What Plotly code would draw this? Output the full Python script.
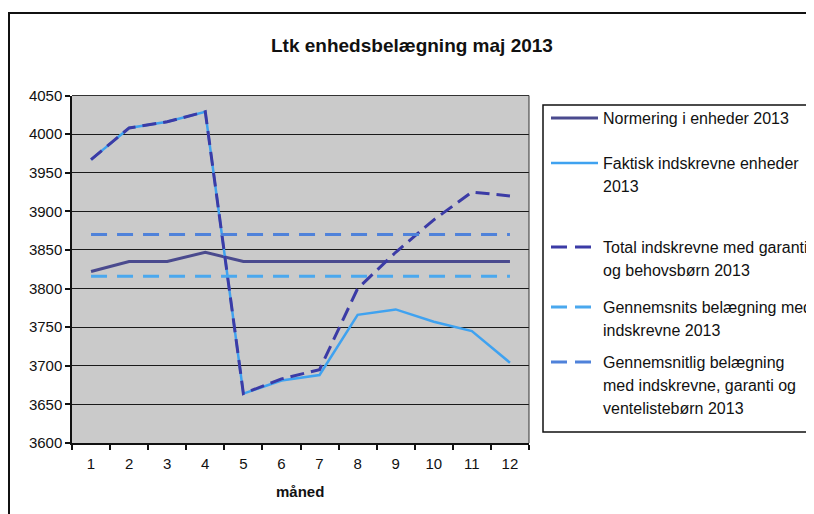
import plotly.graph_objects as go

W, H = 814, 514
OFF = 8  # default page margin of the browser

months = ["1", "2", "3", "4", "5", "6", "7", "8", "9", "10", "11", "12"]
normering = [3822, 3835, 3835, 3847, 3835, 3835, 3835, 3835, 3835, 3835, 3835, 3835]
faktisk = [3967, 4008, 4016, 4029, 3664, 3681, 3688, 3766, 3773, 3757, 3745, 3704]
total_garanti = [3967, 4008, 4016, 4029, 3664, 3683, 3695, 3800, 3847, 3889, 3925, 3920]
gns_indskrevne = [3816] * 12
gns_garanti_vente = [3870] * 12

series_names = [
    "Normering i enheder 2013",
    "Faktisk indskrevne enheder 2013",
    "Total indskrevne med garanti og behovsbørn 2013",
    "Gennemsnits belægning med indskrevne 2013",
    "Gennemsnitlig belægning med indskrevne, garanti og ventelistebørn 2013",
]
legend_lines = [
    ["Normering i enheder 2013"],
    ["Faktisk indskrevne enheder", "2013"],
    ["Total indskrevne med garanti", "og behovsbørn 2013"],
    ["Gennemsnits belægning med", "indskrevne 2013"],
    ["Gennemsnitlig belægning", "med indskrevne, garanti og", "ventelistebørn 2013"],
]
y_ticks = [3600, 3650, 3700, 3750, 3800, 3850, 3900, 3950, 4000, 4050]

colors = ["#4a4a8e", "#3fa2f0", "#3b3ba6", "#4aa8ee", "#4f82da"]
dashes = ["solid", "solid", "14px,7px", "16px,10px", "16px,10px"]
widths = [3, 2.5, 3, 3, 3]
data = [normering, faktisk, total_garanti, gns_indskrevne, gns_garanti_vente]

fig = go.Figure()
for name, vals, c, d, w in zip(series_names, data, colors, dashes, widths):
    fig.add_trace(go.Scatter(x=months, y=vals, mode="lines", name=name,
                             line=dict(color=c, dash=d, width=w), showlegend=False))

def px(x):
    return (x - OFF) / W

def py(y):
    return 1 - (y - OFF) / H

font = "Liberation Sans, Arial, sans-serif"

fig.update_layout(
    width=W, height=H,
    margin=dict(l=0, r=0, t=0, b=0, autoexpand=False),
    paper_bgcolor="white",
    plot_bgcolor="#cacaca",
    font=dict(family=font, size=15, color="#111"),
    xaxis=dict(
        domain=[px(72), px(529)], type="category", tickson="boundaries",
        ticks="outside", ticklen=5, tickcolor="#111", tickwidth=1.5,
        showline=True, linecolor="#111", linewidth=1.5, showgrid=False,
        tickfont=dict(size=15), range=[-0.5, 11.5], automargin=False,
        ticklabelstandoff=6,
    ),
    yaxis=dict(
        domain=[py(443), py(95.5)], range=[3600, 4050], tickvals=y_ticks,
        ticks="outside", ticklen=5, tickcolor="#111", tickwidth=1.5,
        showline=True, linecolor="#111", linewidth=1.5,
        showgrid=True, gridcolor="#1a1a1a", gridwidth=1,
        tickfont=dict(size=15), zeroline=False, automargin=False,
    ),
)

shapes = []
# outer chart border (right and bottom clipped by image)
shapes.append(dict(type="rect", xref="paper", yref="paper",
                   x0=px(9), x1=px(840), y0=py(540), y1=py(13),
                   line=dict(color="#111", width=2), fillcolor="rgba(0,0,0,0)"))
# plot area right and top border
shapes.append(dict(type="line", xref="paper", yref="paper",
                   x0=px(529), x1=px(529), y0=py(443), y1=py(95.5),
                   line=dict(color="#333", width=1)))
shapes.append(dict(type="line", xref="paper", yref="paper",
                   x0=px(72), x1=px(529), y0=py(95.5), y1=py(95.5),
                   line=dict(color="#333", width=1)))
# legend box
shapes.append(dict(type="rect", xref="paper", yref="paper",
                   x0=px(543), x1=px(840), y0=py(432), y1=py(105),
                   line=dict(color="#111", width=1.5), fillcolor="white"))

annotations = [
    dict(text="<b>Ltk enhedsbelægning maj 2013</b>", xref="paper", yref="paper",
         x=px(412), y=py(46), showarrow=False, font=dict(size=19, color="#111"),
         xanchor="center", yanchor="middle"),
    dict(text="<b>måned</b>", xref="paper", yref="paper",
         x=px(300), y=py(491), showarrow=False, font=dict(size=15, color="#111"),
         xanchor="center", yanchor="middle"),
]

entry_y = [118, 163, 247, 307, 362]
line_h = 23
for i, lines in enumerate(legend_lines):
    y0 = entry_y[i]
    shapes.append(dict(type="line", xref="paper", yref="paper",
                       x0=px(551), x1=px(598), y0=py(y0), y1=py(y0),
                       line=dict(color=colors[i], width=widths[i],
                                 dash="solid" if dashes[i] == "solid" else "16px,8px")))
    for j, t in enumerate(lines):
        annotations.append(dict(text=t, xref="paper", yref="paper",
                                x=px(601), y=py(y0 + j * line_h), showarrow=False,
                                xanchor="left", yanchor="middle",
                                font=dict(size=16, color="#111")))

fig.update_layout(shapes=shapes, annotations=annotations)

fig.write_html("out.html")
